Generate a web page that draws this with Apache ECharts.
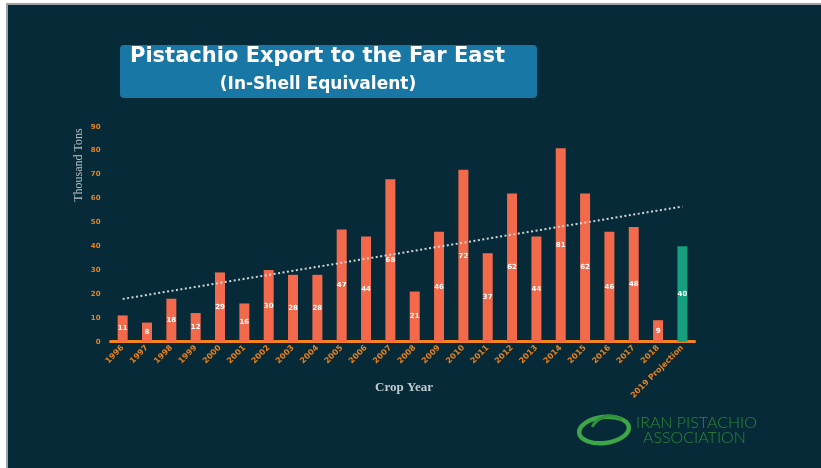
<!DOCTYPE html>
<html>
<head>
<meta charset="utf-8">
<script src="https://cdn.jsdelivr.net/npm/echarts@6/dist/echarts.min.js"></script>
<style>
html,body{margin:0;padding:0;background:#ffffff;}
#chart{width:821px;height:468px;}
</style>
</head>
<body>
<div id="chart"></div>
<script>
const categories = ['1996','1997','1998','1999','2000','2001','2002','2003','2004','2005','2006','2007','2008','2009','2010','2011','2012','2013','2014','2015','2016','2017','2018','2019 Projection'];
const exportValues = [11,8,18,12,29,16,30,28,28,47,44,68,21,46,72,37,62,44,81,62,46,48,9,40];
const trendEnds = [17.9, 56.6];
const yTicks = [0,10,20,30,40,50,60,70,80,90];

const orange = '#f26a4b';
const teal = '#15a07d';
const axisOrange = '#e8821f';

const chart = echarts.init(document.getElementById('chart'));
chart.setOption({
  backgroundColor: '#062a38',
  animation: false,
  grid: {left: 110.5, right: 126.4, top: 126.7, bottom: 126.3},
  xAxis: {
    type: 'category',
    data: categories,
    axisLine: {lineStyle: {color: '#f5821f', width: 3}},
    axisTick: {show: false},
    axisLabel: {rotate: 45, color: axisOrange, fontSize: 8, fontWeight: 'bold', margin: 5, interval: 0, fontFamily: 'DejaVu Sans'}
  },
  yAxis: {
    type: 'value',
    min: yTicks[0],
    max: yTicks[yTicks.length - 1],
    interval: 10,
    axisLine: {show: false},
    axisTick: {show: false},
    splitLine: {show: false},
    axisLabel: {color: axisOrange, fontSize: 7, fontWeight: 'bold', margin: 10, fontFamily: 'DejaVu Sans'}
  },
  series: [{
    type: 'bar',
    barWidth: 10,
    data: exportValues.map((v, i) => ({
      value: v,
      itemStyle: {color: i === exportValues.length - 1 ? teal : orange}
    })),
    label: {show: true, position: 'inside', color: '#ffffff', fontSize: 7, fontWeight: 'bold', fontFamily: 'DejaVu Sans'},
    markLine: {
      silent: true,
      symbol: ['none', 'none'],
      label: {show: false},
      lineStyle: {type: [2, 2.5], width: 2, color: '#cdd6d9'},
      data: [[
        {coord: [categories[0], trendEnds[0]]},
        {coord: [categories[categories.length - 1], trendEnds[1]]}
      ]]
    }
  }],
  graphic: [
    {type: 'rect', shape: {x: 0, y: 0, width: 821, height: 3}, style: {fill: '#ffffff'}},
    {type: 'rect', shape: {x: 0, y: 3, width: 821, height: 2}, style: {fill: '#9ea3a6'}},
    {type: 'rect', shape: {x: 0, y: 0, width: 6, height: 468}, style: {fill: '#ffffff'}},
    {type: 'rect', shape: {x: 6, y: 3, width: 2, height: 465}, style: {fill: '#9ea3a6'}},
    {type: 'rect', shape: {x: 120, y: 45, width: 417, height: 53, r: 4}, style: {fill: '#1877a4'}},
    {type: 'text', x: 130, y: 57, style: {text: 'Pistachio Export to the Far East', fill: '#ffffff', font: 'bold 21px "DejaVu Sans", Verdana, sans-serif', textAlign: 'left', textVerticalAlign: 'middle'}},
    {type: 'text', x: 318, y: 85, style: {text: '(In-Shell Equivalent)', fill: '#ffffff', font: 'bold 17px "DejaVu Sans", Verdana, sans-serif', textAlign: 'center', textVerticalAlign: 'middle'}},
    {type: 'text', x: 79, y: 165, rotation: Math.PI / 2, style: {text: 'Thousand Tons', fill: '#b9c2c6', font: '12px "Liberation Serif", "DejaVu Serif", serif', textAlign: 'center', textVerticalAlign: 'middle'}},
    {type: 'text', x: 404, y: 388, style: {text: 'Crop Year', fill: '#c3cbcf', font: 'bold 13px "Liberation Serif", "DejaVu Serif", serif', textAlign: 'center', textVerticalAlign: 'middle'}},
    {type: 'ellipse', shape: {cx: 604, cy: 430, rx: 25, ry: 13}, rotation: 0.12, originX: 604, originY: 430, style: {fill: 'none', stroke: '#3da647', lineWidth: 4.5}},
    {type: 'arc', shape: {cx: 610, cy: 436, r: 20, startAngle: Math.PI * 1.15, endAngle: Math.PI * 1.7}, style: {fill: 'none', stroke: '#2f8f3a', lineWidth: 3}},
    {type: 'text', x: 636, y: 423, style: {text: 'IRAN PISTACHIO', fill: '#2c8a34', font: '300 16px Lato, "Open Sans", sans-serif', textAlign: 'left', textVerticalAlign: 'middle'}},
    {type: 'text', x: 643, y: 438, style: {text: 'ASSOCIATION', fill: '#2c8a34', font: '300 16px Lato, "Open Sans", sans-serif', textAlign: 'left', textVerticalAlign: 'middle'}}
  ]
});
</script>
</body>
</html>
